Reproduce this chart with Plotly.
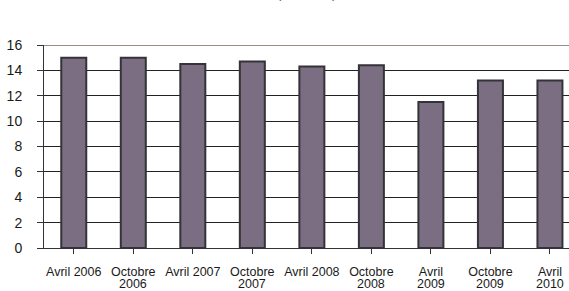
import plotly.graph_objects as go

categories = ["Avril 2006", "Octobre<br>2006", "Avril 2007", "Octobre<br>2007", "Avril 2008",
              "Octobre<br>2008", "Avril<br>2009", "Octobre<br>2009", "Avril<br>2010"]
values = [15.0, 15.0, 14.5, 14.7, 14.3, 14.4, 11.5, 13.2, 13.2]
y_ticks = [0, 2, 4, 6, 8, 10, 12, 14, 16]
title_text = "(en euros)"

first_lines = [c.split("<br>")[0] for c in categories]
second_lines = [c.split("<br>")[1] if "<br>" in c else "" for c in categories]

fig = go.Figure()
fig.add_trace(go.Bar(
    x=list(range(len(categories))), y=values,
    marker=dict(color="#7B6E82", line=dict(color="#333338", width=2)),
    width=0.42,
))

fig.update_layout(
    width=569, height=291,
    margin=dict(l=44, r=0, t=45, b=43),
    paper_bgcolor="white", plot_bgcolor="white",
    showlegend=False,
    font=dict(family="Liberation Sans, Arial, sans-serif", color="#000000"),
    bargap=0.5,
)
fig.update_xaxes(
    range=[-0.5, 8.32],
    tickmode="array", tickvals=list(range(len(categories))), ticktext=first_lines,
    tickfont=dict(size=12.5, color="#1a1a1a"), showgrid=False,
    showline=True, linecolor="#333333", linewidth=1,
    ticks="outside", ticklen=5, tickcolor="#333333", tickson="boundaries",
    ticklabelstandoff=7,
)
fig.update_yaxes(
    range=[0, 16], tickmode="array", tickvals=y_ticks,
    tickfont=dict(size=14, color="#1a1a1a"), showgrid=True, gridcolor="#222222", gridwidth=1,
    showline=True, linecolor="#333333", linewidth=1,
    ticks="outside", ticklen=6, tickcolor="#333333",
    zeroline=False, ticklabelstandoff=12,
)
for i, s in enumerate(second_lines):
    if s:
        fig.add_annotation(text=s, xref="x", yref="paper", x=i, y=-0.178,
                           yanchor="middle", showarrow=False,
                           font=dict(size=12.5, color="#1a1a1a"))
fig.add_shape(type="line", xref="paper", yref="y", x0=0, x1=1, y0=16, y1=16,
              line=dict(color="#9C8C88", width=2))
fig.add_annotation(text=title_text, xref="paper", yref="paper", x=0.5, y=1.205,
                   yanchor="bottom", showarrow=False, font=dict(size=13, color="#555555"))

fig.write_html("out.html", config={"displayModeBar": False},
               post_script="document.body.style.margin='0';document.body.style.overflow='hidden';")
